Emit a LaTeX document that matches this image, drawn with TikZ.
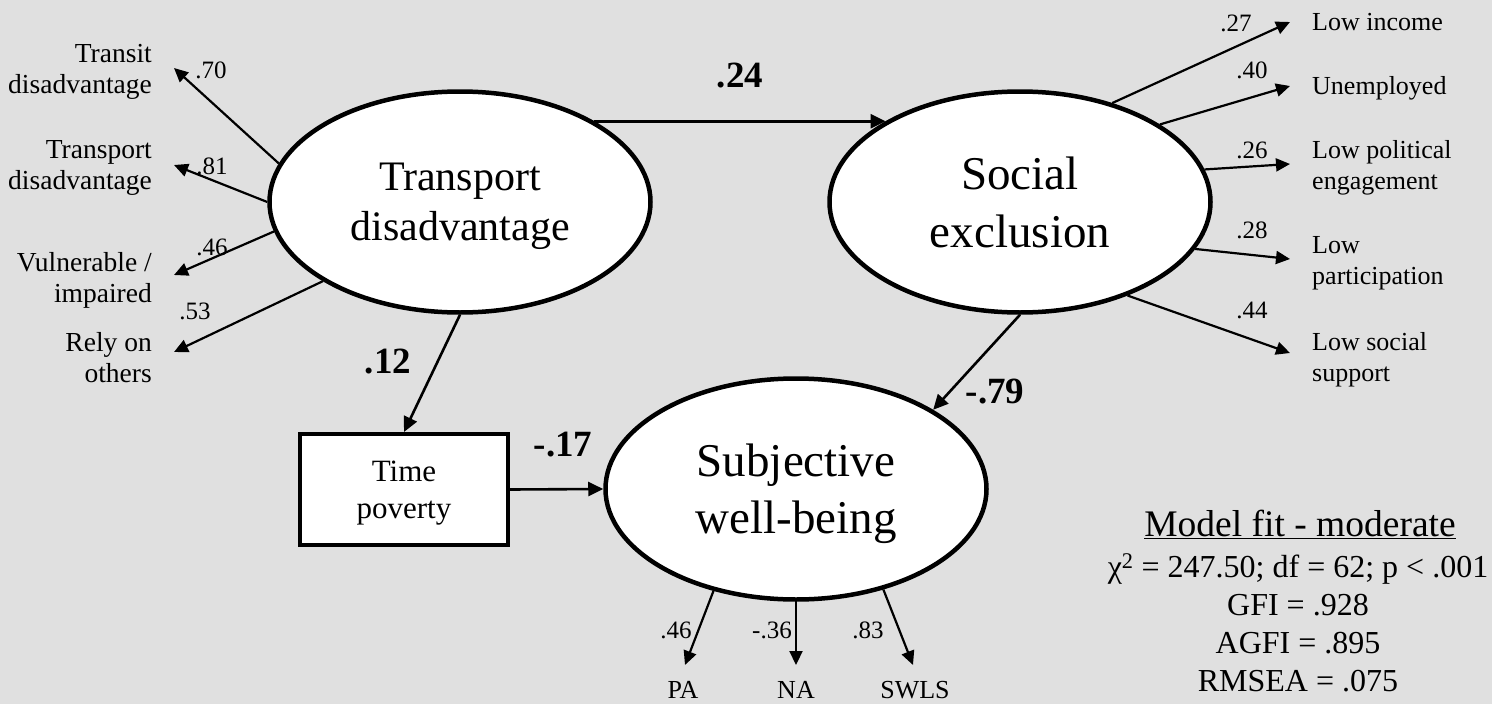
\documentclass[tikz,border=0pt]{standalone}
\usepackage{fontspec}
\setmainfont{Liberation Serif}
\usetikzlibrary{arrows.meta,shapes.geometric,positioning}
\definecolor{bgGray}{RGB}{224,224,224}

\tikzset{
  latent/.style={ellipse,draw,line width=4.5pt,fill=white,minimum width=381pt,minimum height=221pt,inner sep=0pt,align=center,text depth=0pt},
  observed/.style={rectangle,draw,line width=4pt,fill=white,minimum width=208pt,minimum height=111pt,inner sep=0pt,align=center,text depth=0pt,font=\fontsize{31}{37}\selectfont},
  regpath/.style={line width=2.6pt,-{Triangle[length=15pt,width=14pt]}},
  loadarrow/.style={line width=2.2pt,-{Triangle[length=14pt,width=13pt]}},
  coef/.style={font=\fontsize{37}{40}\selectfont\bfseries,inner sep=0pt},
  smallcoef/.style={font=\fontsize{25}{28}\selectfont,inner sep=0pt},
  indicator/.style={font=\fontsize{26}{31}\selectfont,inner sep=0pt},
}

\begin{document}
\begin{tikzpicture}[x=1pt,y=-1pt]

  % background
  \fill[bgGray] (0,0) rectangle (1492,704);
  \useasboundingbox (0,0) rectangle (1492,704);

  % draw the latent variables and the observed one
  \node[latent,font=\fontsize{42}{50}\selectfont] (TD) at (460,202) {Transport\\disadvantage};
  \node[latent,font=\fontsize{47}{58}\selectfont] (SE) at (1020,202) {Social\\exclusion};
  \node[latent,font=\fontsize{47}{57}\selectfont] (SWB) at (796,489) {Subjective\\well-being};
  \node[observed] (TP) at (404,489.5) {Time\\poverty};

  % draw the structural paths
  \draw[regpath] (TD.31) -- (SE.149);
  \draw[regpath] (TD.270) -- (TP.north);
  \draw[regpath] (SE.270) -- (SWB.30);
  \draw[regpath] (TP.east) -- (SWB.west);

  \node[coef] (cTDSE) at (740,76) {.24};
  \node[coef] (cTDTP) at (388,362) {.12};
  \node[coef] (cTPSWB) at (563,445) {-.17};
  \node[coef] (cSESWB) at (995,392) {-.79};

  % indicators of transport disadvantage
  \foreach \ang/\ty/\ly/\cx/\cy/\coefval/\txt [count=\i] in {
      168/68/44/211/70/.70/{Transit\\disadvantage},
      180/165/140/212/166/.81/{Transport\\disadvantage},
      189/275/252/212/247/.46/{Vulnerable /\\impaired},
      210/352/332/195/311/.53/{Rely on\\others}}
  {
    \coordinate (tdTip\i) at (174,\ty);
    \node[indicator,font=\fontsize{27.5}{31}\selectfont,anchor=north east,align=right] (tdInd\i) at (152,\ly) {\txt};
    \node[smallcoef] (tdCoef\i) at (\cx,\cy) {\coefval};
    \draw[loadarrow] (TD.\ang) -- (tdTip\i);
  }

  % indicators of social exclusion
  \foreach \ang/\ty/\ly/\cx/\cy/\coefval/\txt [count=\i] in {
      47/22/13/1236/23/.27/{Low income},
      29/86/76/1252/70/.40/{Unemployed},
      10/164/140/1252/150/.26/{Low political\\engagement},
      345/259/236/1252/230/.28/{Low\\participation},
      319/353/332/1252/310/.44/{Low social\\support}}
  {
    \coordinate (seTip\i) at (1290,\ty);
    \node[indicator,anchor=north west,align=left] (seInd\i) at (1312,\ly) {\txt};
    \node[smallcoef] (seCoef\i) at (\cx,\cy) {\coefval};
    \draw[loadarrow] (SE.\ang) -- (seTip\i);
  }

  % indicators of subjective well-being
  \foreach \ang/\tx/\lx/\cx/\coefval/\txt [count=\i] in {
      231/685/683/676/.46/PA,
      270/796/796/772/-.36/NA,
      311/913/915/868/.83/SWLS}
  {
    \coordinate (swbTip\i) at (\tx,665);
    \node[indicator,anchor=base] (swbInd\i) at (\lx,698) {\txt};
    \node[smallcoef] (swbCoef\i) at (\cx,630) {\coefval};
    \draw[loadarrow] (SWB.\ang) -- (swbTip\i);
  }

  % model fit
  \node[font=\fontsize{37.5}{40}\selectfont,inner sep=0pt,anchor=base] (fit) at (1300,536) {\underline{Model fit - moderate}};
  \node[font=\fontsize{32}{38}\selectfont,inner sep=0pt,anchor=north,align=center] (fitStats) at (1298,553)
    {χ\textsuperscript{2} = 247.50; df = 62; p < .001\\GFI = .928\\AGFI = .895\\RMSEA = .075};

\end{tikzpicture}
\end{document}
